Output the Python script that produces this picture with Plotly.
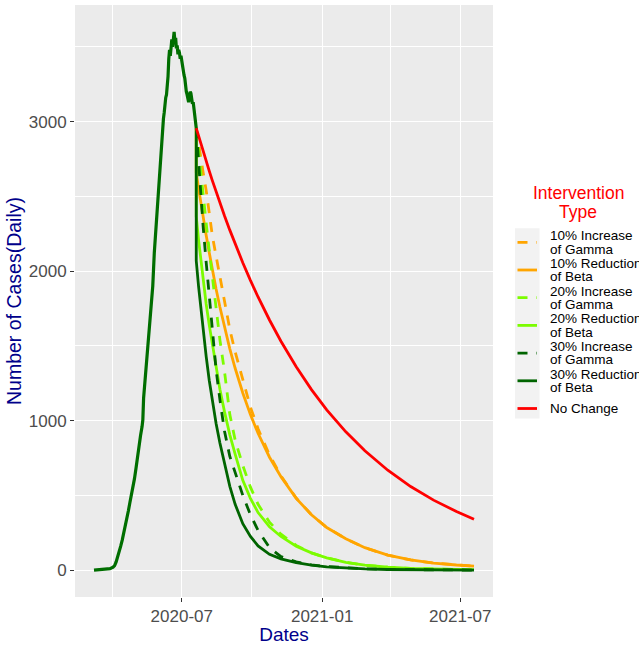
import pandas as pd
import plotly.graph_objects as go

# ---------------- data ----------------
ORIGIN = "2020-07-01"  # day offsets below are counted from this date

# observed daily cases before the intervention
hist_days = [-115, -108, -100, -94, -90, -88, -86, -84, -82, -80, -78, -76, -74, -72, -70,
             -68, -66, -64, -62, -60, -58, -56, -54, -52, -51, -50, -49, -48, -47, -45,
             -43, -41, -40, -38, -36, -34, -32, -30, -28, -27, -26, -25, -24, -23, -22,
             -21, -20, -19, -18, -17, -16, -15, -14, -13, -12, -11, -10, -9, -8, -7,
             -6, -5, -4, -3, -2, -1, 0, 1, 2, 3, 4, 5, 6, 7, 8,
             9, 10, 11, 12, 13, 14, 15, 16, 17, 18, 19]
hist_cases = [0, 2, 5, 10, 20, 30, 55, 85, 120, 160, 200, 245, 290, 340, 395,
              450, 500, 550, 610, 680, 760, 845, 900, 960, 1005, 1150, 1210, 1300, 1360, 1450,
              1560, 1700, 1760, 1900, 2120, 2280, 2430, 2560, 2700, 2770, 2880, 2960, 3020, 3060, 3130,
              3160, 3180, 3230, 3300, 3420, 3480, 3440, 3520, 3550, 3500, 3590, 3600, 3540, 3560, 3490,
              3510, 3450, 3480, 3460, 3420, 3440, 3400, 3380, 3350, 3310, 3290, 3230, 3200, 3180, 3150,
              3130, 3160, 3200, 3190, 3150, 3120, 3130, 3080, 3050, 3000, 2956]

# projected daily cases after the intervention
proj_days = [19, 22, 25, 28, 32, 36, 40, 45, 50, 56, 63, 70, 80, 90, 100, 115, 130, 150,
             170, 190, 215, 240, 270, 300, 330, 360, 383]
no_change = [2956, 2903, 2851, 2800, 2734, 2670, 2607, 2531, 2457, 2370, 2274, 2181, 2056, 1938,
             1827, 1673, 1531, 1360, 1207, 1072, 925, 798, 668, 559, 468, 392, 340]
gamma10 = [2956, 2850, 2745, 2660, 2540, 2390, 2240, 2100, 1960, 1780, 1610, 1460, 1270, 1090,
           945, 770, 630, 482, 370, 285, 210, 150, 100, 68, 47, 34, 27]
beta10 = [2660, 2555, 2455, 2360, 2240, 2125, 2010, 1880, 1760, 1625, 1480, 1350, 1185, 1040,
          915, 755, 625, 480, 370, 285, 210, 150, 100, 68, 47, 34, 27]
gamma20 = [2956, 2800, 2650, 2500, 2320, 2140, 1960, 1740, 1540, 1330, 1040, 870, 700, 555,
           440, 320, 240, 165, 115, 82, 52, 33, 19, 11, 6, 4, 3]
beta20 = [2365, 2210, 2070, 1940, 1780, 1640, 1510, 1350, 1210, 1060, 905, 775, 600, 480,
          385, 290, 225, 160, 115, 82, 52, 33, 19, 11, 6, 4, 3]
gamma30 = [2956, 2720, 2500, 2300, 2060, 1830, 1610, 1340, 1140, 930, 760, 650, 500, 370,
           265, 150, 90, 55, 35, 24, 14, 8, 4, 2, 1, 1, 0]
beta30 = [2069, 1900, 1750, 1610, 1430, 1270, 1130, 980, 850, 710, 560, 440, 310, 225,
          162, 105, 75, 50, 33, 22, 13, 8, 4, 2, 1, 1, 0]

legend_labels = ["10% Increase<br>of Gamma", "10% Reduction<br>of Beta",
                 "20% Increase<br>of Gamma", "20% Reduction<br>of Beta",
                 "30% Increase<br>of Gamma", "30% Reduction<br>of Beta", "No Change"]
legend_title = "Intervention<br>Type"
x_ticks = ["2020-07-01", "2021-01-01", "2021-07-01"]
x_minor = ["2020-04-01", "2020-10-01", "2021-04-01"]
y_label = "Number of Cases(Daily)"
x_label = "Dates"

# ---------------- styling ----------------
ORANGE, LAWN, DARK, RED = "#FFA500", "#7CFC00", "#006400", "#FF0000"
HIST_COLOR = "#006E00"
DASH = "10px,9px"
LW = 2.8
FONT = "Liberation Sans, Arial, Helvetica, sans-serif"

origin = pd.Timestamp(ORIGIN)


def to_dates(days):
    return origin + pd.to_timedelta(days, unit="D")


hist_x = to_dates(hist_days)
proj_x = to_dates(proj_days)
start_val = hist_cases[-1]
start_x = to_dates([hist_days[-1]])

series = [
    (legend_labels[0], gamma10, ORANGE, DASH),
    (legend_labels[1], beta10, ORANGE, "solid"),
    (legend_labels[2], gamma20, LAWN, DASH),
    (legend_labels[3], beta20, LAWN, "solid"),
    (legend_labels[4], gamma30, DARK, DASH),
    (legend_labels[5], beta30, DARK, "solid"),
    (legend_labels[6], no_change, RED, "solid"),
]

fig = go.Figure()

fig.add_trace(go.Scatter(x=hist_x, y=hist_cases, mode="lines",
                         line=dict(color=HIST_COLOR, width=3.2), showlegend=False,
                         hoverinfo="skip"))

for name, vals, color, dash in series:
    xs = list(start_x) + list(proj_x)
    ys = [start_val] + list(vals)
    fig.add_trace(go.Scatter(x=xs, y=ys, mode="lines", name=name.replace("<br>", " "),
                             line=dict(color=color, width=LW, dash=dash),
                             showlegend=False))

# axis ranges with ggplot-style 5% expansion
all_x = list(hist_x) + list(proj_x)
xmin, xmax = min(all_x), max(all_x)
xpad = (xmax - xmin) * 0.05
ymax = max(max(hist_cases), max(no_change))
ypad = ymax * 0.05

W, H = 639, 645
L, R, T, B = 75, 146, 5, 48
PW, PH = W - L - R, H - T - B


def px(xp):
    return (xp - L) / PW


def py(yp):
    return (H - B - yp) / PH


# ---------------- manual ggplot-like legend ----------------
shapes = [dict(type="rect", xref="paper", yref="paper", x0=px(515), x1=px(539.5),
               y0=py(418.5), y1=py(228.3), fillcolor="#F2F2F2", line=dict(width=0),
               layer="below")]
annotations = []
key_y0, key_step = 242.3, 27.7
for i, (name, vals, color, dash) in enumerate(series):
    yc = key_y0 + key_step * i
    shapes.append(dict(type="line", xref="paper", yref="paper",
                       x0=px(517.5), x1=px(537), y0=py(yc), y1=py(yc),
                       line=dict(color=color, width=LW, dash=dash)))
    lines = name.split("<br>")
    offs = [-6.7, 6.7] if len(lines) == 2 else [0]
    for txt, off in zip(lines, offs):
        annotations.append(dict(text=txt, xref="paper", yref="paper", x=px(548), y=py(yc + off),
                                xanchor="left", yanchor="middle", showarrow=False,
                                font=dict(size=13.5, color="black", family=FONT)))
for txt, yy in zip(legend_title.split("<br>"), [193, 212]):
    annotations.append(dict(text=txt, xref="paper", yref="paper", x=px(578), y=py(yy),
                            xanchor="center", yanchor="middle", showarrow=False,
                            font=dict(size=17.5, color=RED, family=FONT)))

fig.update_layout(
    width=W, height=H,
    margin=dict(l=L, r=R, t=T, b=B, autoexpand=False),
    paper_bgcolor="white", plot_bgcolor="#EBEBEB",
    font=dict(family=FONT, color="#4D4D4D"),
    showlegend=False,
    shapes=shapes, annotations=annotations,
)

fig.update_xaxes(
    type="date", range=[xmin - xpad, xmax + xpad],
    tickvals=pd.to_datetime(x_ticks), tickformat="%Y-%m",
    ticks="outside", ticklen=4, tickwidth=1.1, tickcolor="#333333",
    tickfont=dict(size=17, color="#4D4D4D", family=FONT),
    showgrid=True, gridcolor="white", gridwidth=1.2,
    minor=dict(tickvals=pd.to_datetime(x_minor),
               showgrid=True, gridcolor="white", gridwidth=0.6, ticks=""),
    zeroline=False, showline=False, automargin=False,
    title=dict(text=x_label, font=dict(size=19, color="#00008B", family=FONT), standoff=4),
)
fig.update_yaxes(
    range=[-ypad, ymax + ypad], dtick=1000, tick0=0,
    ticks="outside", ticklen=4, tickwidth=1.1, tickcolor="#333333",
    tickfont=dict(size=17, color="#4D4D4D", family=FONT),
    showgrid=True, gridcolor="white", gridwidth=1.2,
    minor=dict(dtick=500, showgrid=True, gridcolor="white", gridwidth=0.6, ticks=""),
    zeroline=False, showline=False, automargin=False,
    title=dict(text=y_label, font=dict(size=19.5, color="#00008B", family=FONT), standoff=1),
)

fig.write_html("out.html", config={"displayModeBar": False},
               post_script="document.body.style.margin='0';document.body.style.overflow='hidden';")
